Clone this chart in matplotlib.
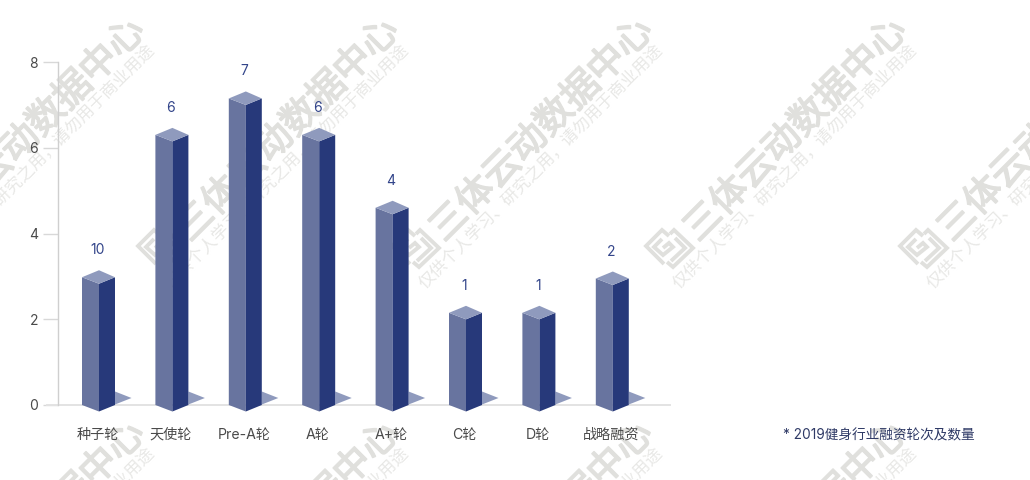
import numpy as np
import matplotlib
matplotlib.use("Agg")
import matplotlib.pyplot as plt
import matplotlib.patheffects as pe
from matplotlib.patches import Polygon

plt.rcParams['font.family'] = ['Inter', 'Noto Sans CJK SC', 'DejaVu Sans']
CJK = ['Noto Sans CJK SC', 'DejaVu Sans']

categories = ["种子轮", "天使轮", "Pre-A轮", "A轮", "A+轮", "C轮", "D轮", "战略融资"]
bar_heights = [2.98, 6.3, 7.15, 6.3, 4.6, 2.15, 2.15, 2.95]
value_labels = ["10", "6", "7", "6", "4", "1", "1", "2"]
y_ticks = [0, 2, 4, 6, 8]
note = "* 2019健身行业融资轮次及数量"
wm_big = "三体云动数据中心"
wm_small = "仅供个人学习、研究之用，请勿用于商业用途"

W, H = 1030, 480
fig = plt.figure(figsize=(W / 100, H / 100), dpi=100, facecolor="white")

# ---------- watermark layer (pixel coordinates) ----------
bg = fig.add_axes([0, 0, 1, 1], zorder=0)
bg.set_xlim(0, W); bg.set_ylim(H, 0); bg.axis("off")
WM1, WM2 = "#e0e0dd", "#e8e8e6"
logo_paths = [
    [(2, -14), (-5, -20), (-21, -4), (-3, 14)],
    [(3, -16), (7, -20), (26, -2), (6, 17), (0, 12)],
    [(-5, -11), (-13, -3), (-4, 5), (6, -3), (2, -7), (-4, -2)],
    [(8, -12), (18, -2), (4, 11)],
]
for col in range(-3, 2):
    for row in range(2):
        dx, dy = 254 * col, 403 * row
        bg.text(796 + dx, 130 + dy, wm_big, rotation=45, rotation_mode="anchor",
                ha="center", va="center", fontsize=26.8, color=WM1, family=CJK,
                clip_on=True,
                path_effects=[pe.withStroke(linewidth=1.1, foreground=WM1)])
        bg.text(795 + dx, 167 + dy, wm_small, rotation=45, rotation_mode="anchor",
                ha="center", va="center", fontsize=12.2, color=WM2, family=CJK,
                clip_on=True)
        for p in logo_paths:
            xs, ys = zip(*p)
            bg.plot(np.array(xs) + 667 + dx, np.array(ys) + 250 + dy, color=WM1, lw=2.8,
                    solid_capstyle="butt", solid_joinstyle="miter", clip_on=True)

# ---------- chart ----------
L, R, B, T = 57.5, 670.0, 405.0, 62.0
ax = fig.add_axes([L / W, 1 - B / H, (R - L) / W, (B - T) / H], zorder=1)
ax.patch.set_alpha(0)
c0, step = 99.0, 73.4
ax.set_xlim((L - c0) / step, (R - c0) / step)
ax.set_ylim(0, 8)
for s in ("top", "right", "bottom"):
    ax.spines[s].set_visible(False)
ax.spines["left"].set_color("#cfcfcf")
ax.spines["left"].set_linewidth(1)
ax.axhline(0, color="#e3e3e3", lw=1.4, zorder=1, clip_on=False)
ax.plot([-0.565 - 11 / step, -0.565], [0, 0], color="#e3e3e3", lw=1.4, clip_on=False)

ax.set_yticks(y_ticks)
ax.tick_params(axis="y", length=11, width=1, color="#d8d8d8", labelsize=10,
               labelcolor="#4a4a4a", pad=3)
x = np.arange(len(categories))
ax.set_xticks(x)
ax.set_xticklabels([])
ax.tick_params(axis="x", length=0)

px = 1 / step                 # one pixel in x units
py = 8 / (B - T)              # one pixel in y units
LEFT, RIGHT, DROP, RISE = 17 * px, 16 * px, 6.5 * py, 7 * py
LC, RC, TC = "#68749f", "#27397a", "#8f9abd"

for i, v in zip(x, bar_heights):
    ax.add_patch(Polygon([(i + RIGHT, 13.5 * py), (i + RIGHT + 16.5 * px, 7 * py), (i + RIGHT, 0.5 * py)],
                         fc=TC, ec="none", zorder=2, clip_on=False))
    ax.add_patch(Polygon([(i - LEFT, 0), (i, -DROP), (i, v - DROP), (i - LEFT, v)],
                         fc=LC, ec="none", zorder=3, clip_on=False))
    ax.add_patch(Polygon([(i, -DROP), (i + RIGHT, 0), (i + RIGHT, v), (i, v - DROP)],
                         fc=RC, ec="none", zorder=3, clip_on=False))
    ax.add_patch(Polygon([(i - LEFT, v), (i, v + RISE), (i + RIGHT, v), (i, v - DROP)],
                         fc=TC, ec="none", zorder=4, clip_on=False))

for i, v, lab in zip(x, bar_heights, value_labels):
    ax.annotate(lab, (i, v), xytext=(-1.5, 27), textcoords="offset pixels", ha="center",
                va="center", fontsize=10, color="#33458a", zorder=5)

for i, lab in zip(x, categories):
    ax.annotate(lab, (i, 0), xytext=(-1.5, -30), textcoords="offset pixels", ha="center",
                va="center", fontsize=10.2, color="#4a4a4a", annotation_clip=False)

bg.text(783, 435.5, note, ha="left", va="center", fontsize=9.85, color="#2f3a66", zorder=6)

fig.savefig("out.png", dpi=100)
